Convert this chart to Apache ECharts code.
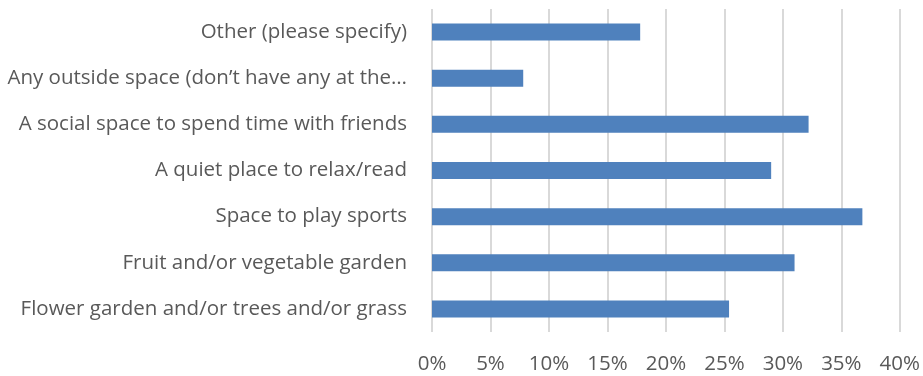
<!DOCTYPE html>
<html>
<head>
<meta charset="utf-8">
<script src="https://cdn.jsdelivr.net/npm/echarts@6/dist/echarts.min.js"></script>
<style>
  html, body { margin: 0; padding: 0; background: #fff; }
  #chart { width: 923px; height: 376px; }
</style>
</head>
<body>
<div id="chart"></div>
<script>
// categories listed bottom to top, as the category axis draws them
const categories = [
  'Flower garden and/or trees and/or grass',
  'Fruit and/or vegetable garden',
  'Space to play sports',
  'A quiet place to relax/read',
  'A social space to spend time with friends',
  'Any outside space (don\u2019t have any at the\u2026',
  'Other (please specify)'
];
const percentages = [25.4, 31.0, 36.8, 29.0, 32.2, 7.8, 17.8];

const labelFont = '"Open Sans", Lato, sans-serif';
const textColor = '#595959';

const chart = echarts.init(document.getElementById('chart'));
chart.setOption({
  animation: false,
  grid: { left: 432, right: 20, top: 9, bottom: 44, containLabel: false },
  xAxis: {
    type: 'value',
    min: 0,
    max: 40,
    interval: 5,
    axisLine: { show: false },
    axisTick: { show: false },
    axisLabel: {
      formatter: '{value}%',
      color: textColor,
      fontFamily: labelFont,
      fontSize: 20.5,
      margin: 22
    },
    splitLine: { lineStyle: { color: '#d9d9d9', width: 2 } }
  },
  yAxis: {
    type: 'category',
    data: categories,
    axisLine: { show: false },
    axisTick: { show: false },
    axisLabel: {
      color: textColor,
      fontFamily: labelFont,
      fontSize: 20.5,
      margin: 25
    }
  },
  series: [{
    type: 'bar',
    data: percentages,
    barWidth: 17,
    itemStyle: { color: '#4f81bd' }
  }]
});
</script>
</body>
</html>
